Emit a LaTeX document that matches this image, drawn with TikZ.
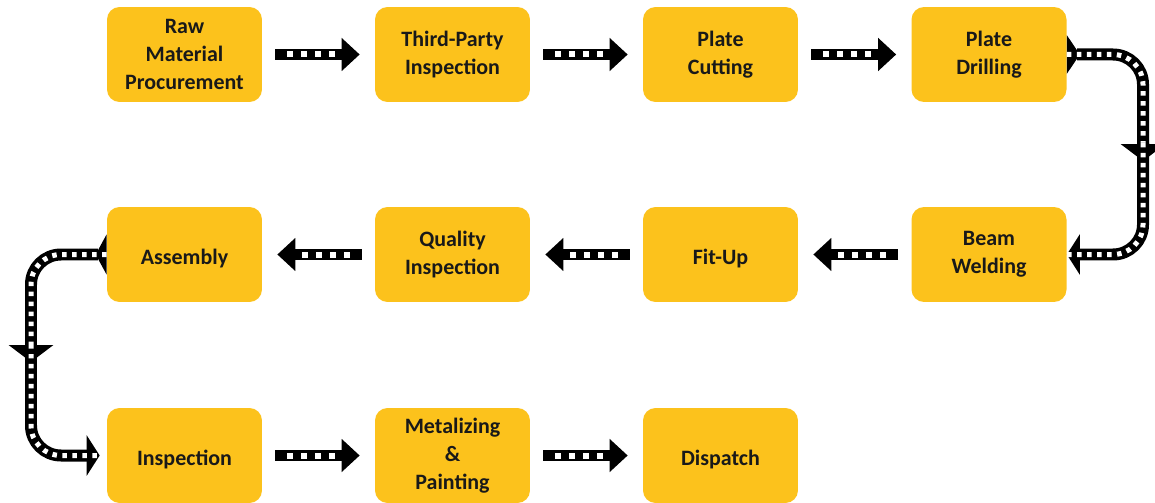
\documentclass[tikz,border=0pt]{standalone}
\usepackage{fontspec}
\setmainfont{Carlito}
\usetikzlibrary{arrows.meta,positioning}
\definecolor{stagegold}{RGB}{252,194,28}
\tikzset{
  stage/.style={rectangle, rounded corners=0.25cm, fill=stagegold,
    minimum width=3.1cm, minimum height=1.9cm, align=center,
    font=\bfseries\fontsize{12.5}{15.9}\selectfont, text=black!90,
    execute at begin node={\rule{0pt}{0.45cm}}},
  film/.style={line width=0.21cm, black, shorten <=0.26cm, shorten >=0.3cm,
    -{Triangle[length=0.36cm,width=0.64cm]},
    postaction={draw=white, -, line width=0.12cm,
      dash pattern=on 0.12cm off 0.16cm, shorten <=0.5cm, shorten >=0.72cm}},
  filmbend/.style={line width=0.24cm, black, rounded corners=0.6cm,
    postaction={draw=white, -, line width=0.1cm,
      dash pattern=on 0.09cm off 0.11cm}}
}
\begin{document}
\begin{tikzpicture}[x=0.02cm, y=-0.02cm]
\useasboundingbox (0,0) rectangle (1155,503);
% first row
\node [stage] (raw)   at (184.5,54.5) {Raw\\Material\\Procurement};
\node [stage] (tpi)   at (452.5,54.5) {Third-Party\\Inspection};
\node [stage] (cut)   at (720.5,54.5) {Plate\\Cutting};
\node [stage] (drill) at (989,54.5)   {Plate\\Drilling};
% second row
\node [stage] (weld)  at (989,254.5)   {Beam\\Welding};
\node [stage] (fitup) at (720.5,254.5) {Fit-Up};
\node [stage] (qi)    at (452.5,254.5) {Quality\\Inspection};
\node [stage] (asm)   at (184.5,254.5) {Assembly};
% third row
\node [stage] (insp)  at (184.5,455.5) {Inspection};
\node [stage] (paint) at (452.5,455.5) {Metalizing\\\&\\Painting};
\node [stage] (disp)  at (720.5,455.5) {Dispatch};

% straight arrows
\draw [film] (raw.east) -- (tpi.west);
\draw [film] (tpi.east) -- (cut.west);
\draw [film] (cut.east) -- (drill.west);
\draw [film] (weld.west) -- (fitup.east);
\draw [film] (fitup.west) -- (qi.east);
\draw [film] (qi.west) -- (asm.east);
\draw [film] (insp.east) -- (paint.west);
\draw [film] (paint.east) -- (disp.west);

% bends
\coordinate (rmid)  at (1143,161);
\coordinate (rmidb) at (1143,143);
\coordinate (lmid)  at (31,362);
\coordinate (lmidb) at (31,344);
\draw [filmbend, {Triangle[reversed,length=0.26cm,width=0.76cm]}-{Triangle[length=0.34cm,width=0.88cm]}]
  (drill.east) -| (rmid);
\draw [filmbend, -{Triangle[length=0.26cm,width=0.8cm]}]
  (rmidb) |- (weld.east);
\draw [filmbend, {Triangle[reversed,length=0.22cm,width=0.8cm]}-{Triangle[length=0.34cm,width=0.88cm]}]
  (asm.west) -| (lmid);
\draw [filmbend, shorten >=0.14cm, -{Triangle[length=0.26cm,width=0.8cm]}]
  (lmidb) |- (insp.west);
\end{tikzpicture}
\end{document}
